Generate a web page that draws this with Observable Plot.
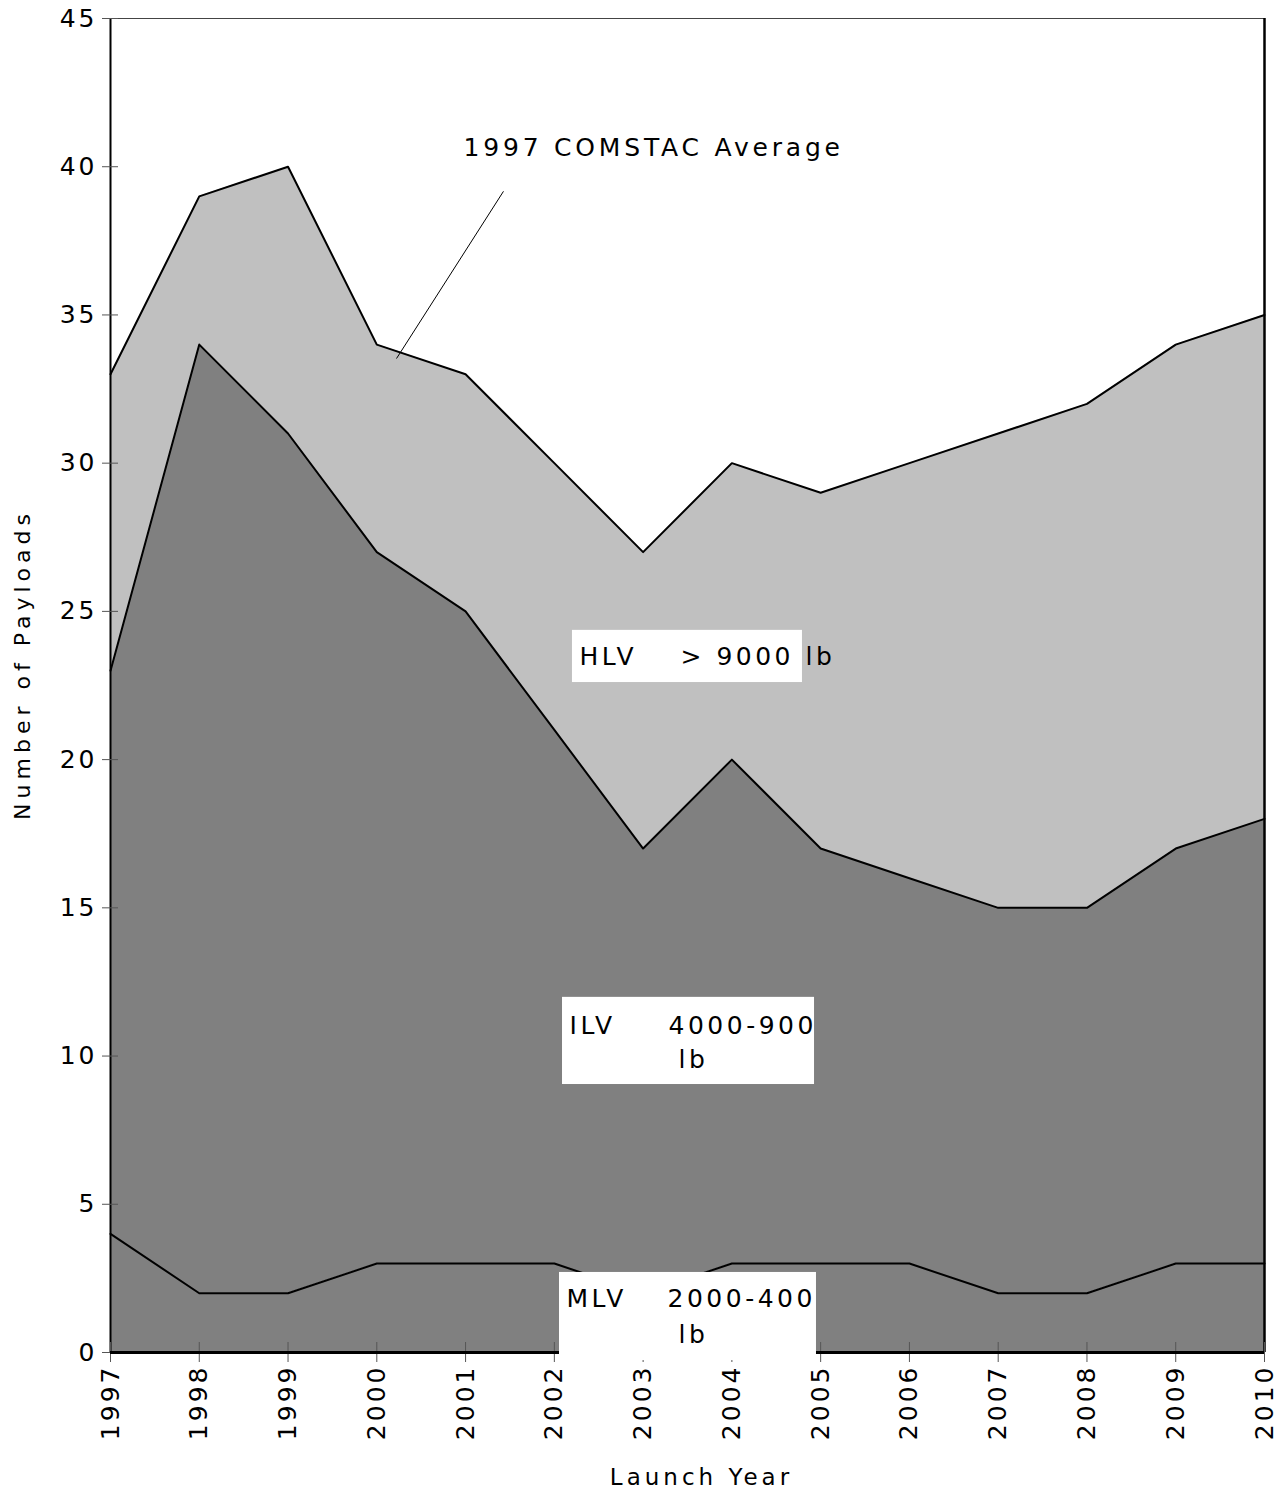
<!DOCTYPE html>
<html><head><meta charset="utf-8">
<script src="https://cdn.jsdelivr.net/npm/d3@7"></script>
<script src="https://cdn.jsdelivr.net/npm/@observablehq/plot@0.6"></script>
<style>
body{margin:0;background:#fff;}
#chart svg{display:block;}
svg text{letter-spacing:3px;}
.ytitle text{letter-spacing:5px;}
.xtitle text{letter-spacing:4px;}
.note text{letter-spacing:3.8px;}
.boxlbl text{letter-spacing:3.5px;}
</style></head><body><div id="chart"></div><script>
// ---- data ----
const years = [1997,1998,1999,2000,2001,2002,2003,2004,2005,2006,2007,2008,2009,2010];
const mlv = [4,2,2,3,3,3,2,3,3,3,2,2,3,3];
const ilv = [19,32,29,24,22,18,15,17,14,13,13,13,14,15];
const hlv = [10,5,9,7,8,9,10,10,12,14,16,17,17,17];
const seriesNames = ["MLV","ILV","HLV"];
const seriesFills = ["#808080","#808080","#c0c0c0"];
const yTicks = [0,5,10,15,20,25,30,35,40,45];

// annotation boxes and texts (data coordinates)
const boxes = [
  {id:"hlv", x1:2002.204, x2:2004.795, y1:22.60, y2:24.36},
  {id:"ilv", x1:2002.092, x2:2004.931, y1:9.04, y2:11.98},
  {id:"mlv", x1:2002.058, x2:2004.953, y1:-0.27, y2:2.70}
];
const hlvTexts = [
  {t:"HLV", x:2002.283, y:23.45},
  {t:"> 9000 lb", x:2003.421, y:23.45}
];
const ilvTexts = [
  {t:"ILV", x:2002.171, y:11.03},
  {t:"4000-9000", x:2003.286, y:11.03},
  {t:"lb", x:2003.399, y:9.88}
];
const mlvTexts = [
  {t:"MLV", x:2002.137, y:1.82},
  {t:"2000-4000", x:2003.275, y:1.82},
  {t:"lb", x:2003.399, y:0.607}
];
const note = [{t:"1997 COMSTAC Average", x:2000.977, y:40.62}];
const leader = [{x1:2001.427, y1:39.17, x2:2000.222, y2:33.53}];

// ---- table ----
const values = {MLV: mlv, ILV: ilv, HLV: hlv};
const table = [];
seriesNames.forEach((s, k) => years.forEach((yr, i) => table.push({year: yr, series: s, value: values[s][i], fill: seriesFills[k]})));

const chart = Plot.plot({
  width: 1285, height: 1492,
  marginLeft: 110, marginRight: 21, marginTop: 18, marginBottom: 140,
  style: {fontFamily: "DejaVu Sans", fontSize: "25px", color: "black", background: "white"},
  x: {domain: [1997, 2010], ticks: years, tickFormat: d => String(d)},
  y: {domain: [0, 45], ticks: yTicks},
  color: {type: "identity"},
  marks: [
    Plot.areaY(table, {x: "year", y: "value", z: "series", fill: "fill", order: seriesNames}),
    Plot.lineY(table, Plot.stackY2({x: "year", y: "value", z: "series", order: seriesNames, stroke: "black", strokeWidth: 2})),
    Plot.frame({stroke: "#444", strokeWidth: 1}),
    Plot.ruleX([2010], {stroke: "black", strokeWidth: 2.5}),
    Plot.ruleX([1997], {stroke: "black", strokeWidth: 2}),
    Plot.axisY({ticks: yTicks, tickSize: 8, tickPadding: 5, stroke: "#555", fill: "black", label: null, fontSize: 25}),
    Plot.axisY({ticks: yTicks, tickSize: 8, dx: 8, text: null, stroke: "#555", label: null}),
    Plot.axisX({ticks: years, tickSize: 10, tickPadding: 2, tickRotate: -90, stroke: "#555", fill: "black", label: null, fontSize: 25, tickFormat: d => String(d)}),
    Plot.axisX({ticks: years, tickSize: 10, dy: -10, text: null, stroke: "#555", label: null}),
    Plot.ruleY([0], {stroke: "black", strokeWidth: 3}),
    Plot.rect(boxes, {x1: "x1", x2: "x2", y1: "y1", y2: "y2", fill: "white"}),
    Plot.text(hlvTexts, {x: "x", y: "y", text: "t", textAnchor: "start", fontSize: 25, fill: "black", className: "boxlbl"}),
    Plot.text(ilvTexts, {x: "x", y: "y", text: "t", textAnchor: "start", fontSize: 25, fill: "black", className: "boxlbl clip-ilv"}),
    Plot.text(mlvTexts, {x: "x", y: "y", text: "t", textAnchor: "start", fontSize: 25, fill: "black", className: "boxlbl clip-mlv"}),
    Plot.text(note, {x: "x", y: "y", text: "t", textAnchor: "start", fontSize: 25, fill: "black", className: "note"}),
    Plot.link(leader, {x1: "x1", y1: "y1", x2: "x2", y2: "y2", stroke: "black", strokeWidth: 1}),
    Plot.text(["Number of Payloads"], {frameAnchor: "left", textAnchor: "middle", rotate: -90, dx: -88, dy: -21, fontSize: 22, fill: "black", className: "ytitle"}),
    Plot.text(["Launch Year"], {frameAnchor: "bottom", textAnchor: "middle", dx: 14, dy: 132, fontSize: 23, fill: "black", className: "xtitle"})
  ]
});

// clip the ILV/MLV label texts to their white boxes
const sx = chart.scale("x"), sy = chart.scale("y");
const svg = d3.select(chart.tagName.toLowerCase() === "svg" ? chart : chart.querySelector("svg"));
const defs = svg.insert("defs", ":first-child");
boxes.filter(b => b.id !== "hlv").forEach(b => {
  const x1 = sx.apply(b.x1), x2 = sx.apply(b.x2), ya = sy.apply(b.y2), yb = sy.apply(b.y1);
  defs.append("clipPath").attr("id", "cp-" + b.id)
    .append("rect").attr("x", x1).attr("y", ya).attr("width", x2 - x1).attr("height", yb - ya);
  svg.selectAll(".clip-" + b.id).attr("clip-path", `url(#cp-${b.id})`);
});

document.getElementById("chart").appendChild(chart);
</script></body></html>
